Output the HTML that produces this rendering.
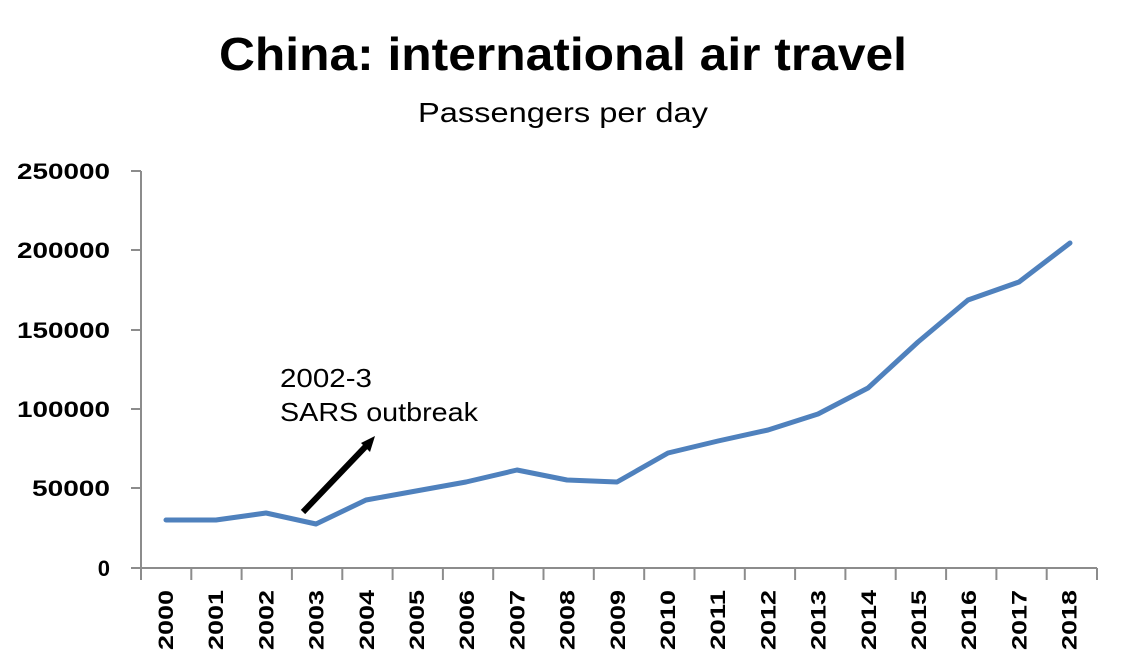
<!DOCTYPE html>
<html><head><meta charset="utf-8"><style>
body{margin:0;background:#fff;}
svg{display:block;}
</style></head><body>
<svg width="1121" height="666" xmlns="http://www.w3.org/2000/svg">
<rect width="1121" height="666" fill="#fff"/>
<text x="219" y="70" textLength="688" lengthAdjust="spacingAndGlyphs" font-family="Liberation Sans, sans-serif" font-weight="bold" font-size="46" fill="#000">China: international air travel</text>
<text x="418" y="122" textLength="290" lengthAdjust="spacingAndGlyphs" font-family="Liberation Sans, sans-serif" font-size="28" fill="#000">Passengers per day</text>
<g stroke="#8c8c8c" stroke-width="2" fill="none">
<line x1="141" y1="171" x2="141" y2="580"/>
<line x1="131" y1="568" x2="1097" y2="568"/>
<line x1="131" y1="171" x2="141" y2="171"/>
<line x1="131" y1="250" x2="141" y2="250"/>
<line x1="131" y1="330" x2="141" y2="330"/>
<line x1="131" y1="409" x2="141" y2="409"/>
<line x1="131" y1="488" x2="141" y2="488"/>
<line x1="191.3" y1="568" x2="191.3" y2="580"/>
<line x1="241.6" y1="568" x2="241.6" y2="580"/>
<line x1="291.9" y1="568" x2="291.9" y2="580"/>
<line x1="342.3" y1="568" x2="342.3" y2="580"/>
<line x1="392.6" y1="568" x2="392.6" y2="580"/>
<line x1="442.9" y1="568" x2="442.9" y2="580"/>
<line x1="493.2" y1="568" x2="493.2" y2="580"/>
<line x1="543.5" y1="568" x2="543.5" y2="580"/>
<line x1="593.8" y1="568" x2="593.8" y2="580"/>
<line x1="644.2" y1="568" x2="644.2" y2="580"/>
<line x1="694.5" y1="568" x2="694.5" y2="580"/>
<line x1="744.8" y1="568" x2="744.8" y2="580"/>
<line x1="795.1" y1="568" x2="795.1" y2="580"/>
<line x1="845.4" y1="568" x2="845.4" y2="580"/>
<line x1="895.7" y1="568" x2="895.7" y2="580"/>
<line x1="946.1" y1="568" x2="946.1" y2="580"/>
<line x1="996.4" y1="568" x2="996.4" y2="580"/>
<line x1="1046.7" y1="568" x2="1046.7" y2="580"/>
<line x1="1097" y1="568" x2="1097" y2="580"/>
</g>
<g font-family="Liberation Sans, sans-serif" font-weight="bold" font-size="22" fill="#000" text-anchor="end">
<text x="110" y="179" textLength="93" lengthAdjust="spacingAndGlyphs">250000</text>
<text x="110" y="258" textLength="93" lengthAdjust="spacingAndGlyphs">200000</text>
<text x="110" y="338" textLength="93" lengthAdjust="spacingAndGlyphs">150000</text>
<text x="110" y="417" textLength="93" lengthAdjust="spacingAndGlyphs">100000</text>
<text x="110" y="496" textLength="78" lengthAdjust="spacingAndGlyphs">50000</text>
<text x="110" y="576">0</text>
</g>
<g font-family="Liberation Sans, sans-serif" font-weight="bold" font-size="21" fill="#000">
<text transform="translate(173,650) rotate(-90)" textLength="60" lengthAdjust="spacingAndGlyphs">2000</text>
<text transform="translate(223.2,650) rotate(-90)" textLength="60" lengthAdjust="spacingAndGlyphs">2001</text>
<text transform="translate(273.4,650) rotate(-90)" textLength="60" lengthAdjust="spacingAndGlyphs">2002</text>
<text transform="translate(323.6,650) rotate(-90)" textLength="60" lengthAdjust="spacingAndGlyphs">2003</text>
<text transform="translate(373.8,650) rotate(-90)" textLength="60" lengthAdjust="spacingAndGlyphs">2004</text>
<text transform="translate(424,650) rotate(-90)" textLength="60" lengthAdjust="spacingAndGlyphs">2005</text>
<text transform="translate(474.2,650) rotate(-90)" textLength="60" lengthAdjust="spacingAndGlyphs">2006</text>
<text transform="translate(524.4,650) rotate(-90)" textLength="60" lengthAdjust="spacingAndGlyphs">2007</text>
<text transform="translate(574.6,650) rotate(-90)" textLength="60" lengthAdjust="spacingAndGlyphs">2008</text>
<text transform="translate(624.8,650) rotate(-90)" textLength="60" lengthAdjust="spacingAndGlyphs">2009</text>
<text transform="translate(675,650) rotate(-90)" textLength="60" lengthAdjust="spacingAndGlyphs">2010</text>
<text transform="translate(725.2,650) rotate(-90)" textLength="60" lengthAdjust="spacingAndGlyphs">2011</text>
<text transform="translate(775.4,650) rotate(-90)" textLength="60" lengthAdjust="spacingAndGlyphs">2012</text>
<text transform="translate(825.6,650) rotate(-90)" textLength="60" lengthAdjust="spacingAndGlyphs">2013</text>
<text transform="translate(875.8,650) rotate(-90)" textLength="60" lengthAdjust="spacingAndGlyphs">2014</text>
<text transform="translate(926,650) rotate(-90)" textLength="60" lengthAdjust="spacingAndGlyphs">2015</text>
<text transform="translate(976.2,650) rotate(-90)" textLength="60" lengthAdjust="spacingAndGlyphs">2016</text>
<text transform="translate(1026.4,650) rotate(-90)" textLength="60" lengthAdjust="spacingAndGlyphs">2017</text>
<text transform="translate(1076.6,650) rotate(-90)" textLength="60" lengthAdjust="spacingAndGlyphs">2018</text>
</g>
<polyline fill="none" stroke="#4f81bd" stroke-width="5" stroke-linejoin="round" stroke-linecap="round" points="166,520 216,520 266,513 316,524 366,500 416,491 466,482 517,470 567,480 617,482 668,453 718,441 768,430 818,414 868,388 918,342 968,300 1019,282 1070,243"/>
<line x1="303" y1="512" x2="368" y2="444" stroke="#000" stroke-width="6"/>
<polygon points="375,436 361,443 370,452" fill="#000"/>
<text x="280" y="387" textLength="92" lengthAdjust="spacingAndGlyphs" font-family="Liberation Sans, sans-serif" font-size="26" fill="#000">2002-3</text>
<text x="280" y="421" textLength="198" lengthAdjust="spacingAndGlyphs" font-family="Liberation Sans, sans-serif" font-size="26" fill="#000">SARS outbreak</text>
</svg>
</body></html>
